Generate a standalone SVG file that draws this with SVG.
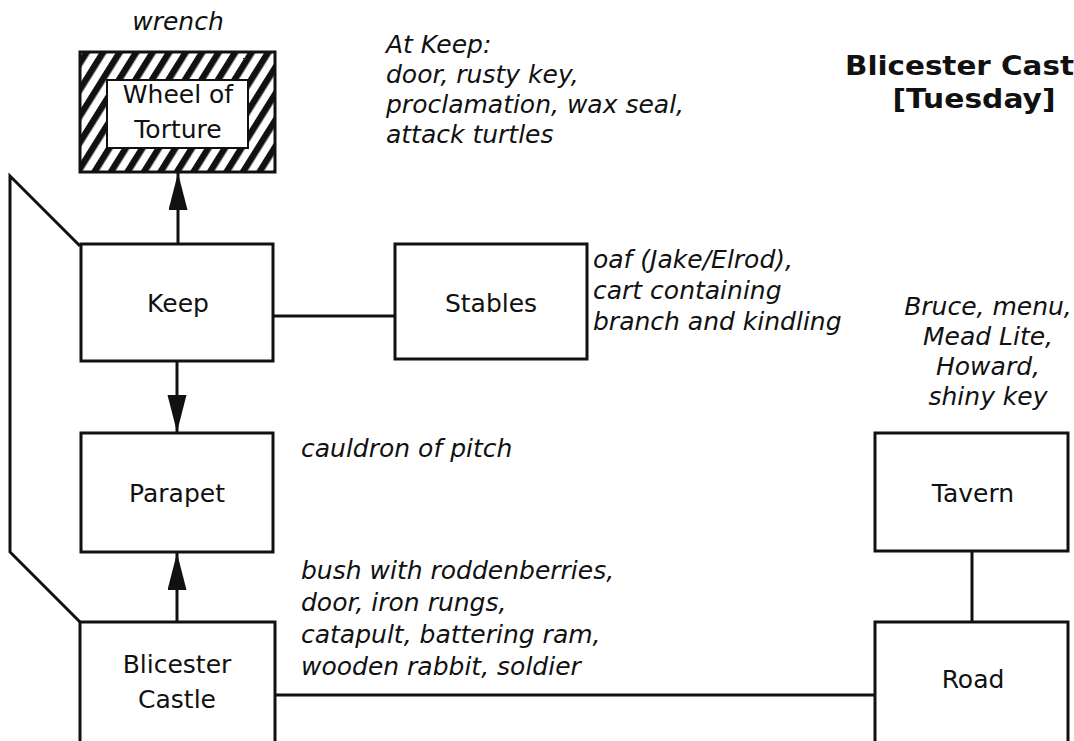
<svg xmlns="http://www.w3.org/2000/svg" width="1074" height="741" viewBox="0 0 1074 741">
<style>
.box{fill:#fff;stroke:#111;stroke-width:3}
.lbl{font-family:"DejaVu Sans",Verdana,sans-serif;font-size:25px;fill:#111;text-anchor:middle}
.note{font-family:"DejaVu Sans",Verdana,sans-serif;font-style:italic;font-size:25px;fill:#111}
.title{font-family:"DejaVu Sans",Verdana,sans-serif;font-weight:bold;font-size:27px;fill:#111}
.edge{fill:none;stroke:#111;stroke-width:3}
</style>
<defs>
<pattern id="hatch" width="14" height="14" patternUnits="userSpaceOnUse" patternTransform="rotate(32)">
<rect width="14" height="14" fill="#fff"/>
<rect x="0" y="0" width="6.5" height="14" fill="#111"/>
</pattern>
<marker id="arr" markerUnits="userSpaceOnUse" markerWidth="38" markerHeight="20" refX="37" refY="9.5" orient="auto">
<path d="M0,0 L37,9.5 L0,19 z" fill="#111"/>
</marker>
</defs>
<rect width="1074" height="741" fill="#fff"/>
<g id="connectors">
<polyline class="edge" points="80,246 10,176 10,552 80,622"/>
<line class="edge" x1="178" y1="244" x2="178" y2="173" marker-end="url(#arr)"/>
<line class="edge" x1="177" y1="361" x2="177" y2="432" marker-end="url(#arr)"/>
<line class="edge" x1="177" y1="622" x2="177" y2="553" marker-end="url(#arr)"/>
<line class="edge" x1="273" y1="316" x2="395" y2="316"/>
<line class="edge" x1="972" y1="551" x2="972" y2="622"/>
<line class="edge" x1="275" y1="695" x2="875" y2="695"/>
</g>
<g id="wheel">
<rect x="80" y="52" width="195" height="120" fill="url(#hatch)" stroke="#111" stroke-width="3"/>
<rect x="107" y="80" width="141" height="68" fill="#fff" stroke="#111" stroke-width="2"/>
<text class="lbl" x="178" y="103">Wheel of</text>
<text class="lbl" x="178" y="138">Torture</text>
<text class="note" x="178" y="30" text-anchor="middle">wrench</text>
</g>
<g id="keep">
<rect class="box" x="81" y="244" width="192" height="117"/>
<text class="lbl" x="178" y="312">Keep</text>
</g>
<g id="stables">
<rect class="box" x="395" y="244" width="192" height="115"/>
<text class="lbl" x="491" y="312">Stables</text>
</g>
<g id="parapet">
<rect class="box" x="81" y="433" width="192" height="119"/>
<text class="lbl" x="177" y="502">Parapet</text>
</g>
<g id="castle">
<rect class="box" x="80" y="622" width="195" height="130"/>
<text class="lbl" x="177" y="673">Blicester</text>
<text class="lbl" x="177" y="708">Castle</text>
</g>
<g id="tavern">
<rect class="box" x="875" y="433" width="193" height="118"/>
<text class="lbl" x="973" y="502">Tavern</text>
</g>
<g id="road">
<rect class="box" x="875" y="622" width="193" height="130"/>
<text class="lbl" x="973" y="688">Road</text>
</g>
<g id="notes">
<text class="note" x="386"><tspan x="386" y="53">At Keep:</tspan><tspan x="386" y="83">door, rusty key,</tspan><tspan x="386" y="113">proclamation, wax seal,</tspan><tspan x="386" y="143">attack turtles</tspan></text>
<text class="note" x="593"><tspan x="593" y="268">oaf (Jake/Elrod),</tspan><tspan x="593" y="299">cart containing</tspan><tspan x="593" y="330">branch and kindling</tspan></text>
<text class="note" text-anchor="middle"><tspan x="988" y="315">Bruce, menu,</tspan><tspan x="988" y="345">Mead Lite,</tspan><tspan x="988" y="375">Howard,</tspan><tspan x="988" y="405">shiny key</tspan></text>
<text class="note" x="301" y="457">cauldron of pitch</text>
<text class="note"><tspan x="301" y="579">bush with roddenberries,</tspan><tspan x="301" y="611">door, iron rungs,</tspan><tspan x="301" y="643">catapult, battering ram,</tspan><tspan x="301" y="675">wooden rabbit, soldier</tspan></text>
</g>
<g id="title">
<text class="title" x="845" y="75" textLength="229" lengthAdjust="spacingAndGlyphs">Blicester Cast</text>
<text class="title" x="974" y="108" text-anchor="middle" textLength="163" lengthAdjust="spacingAndGlyphs">[Tuesday]</text>
</g>
</svg>
